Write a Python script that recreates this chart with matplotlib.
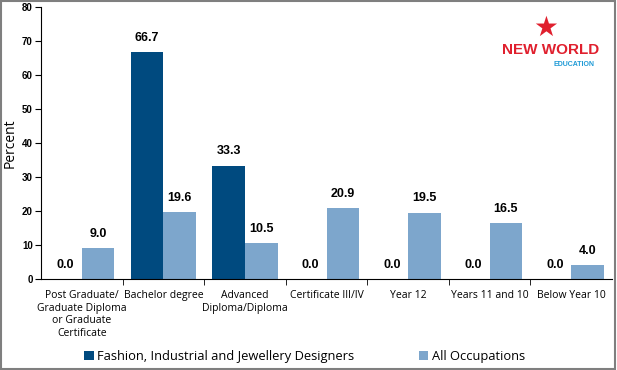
import numpy as np
import matplotlib.pyplot as plt
from matplotlib.patches import Rectangle

# Data
categories = ["Post Graduate/\nGraduate Diploma\nor Graduate\nCertificate", "Bachelor degree",
              "Advanced\nDiploma/Diploma", "Certificate III/IV", "Year 12",
              "Years 11 and 10", "Below Year 10"]
designers = [0.0, 66.7, 33.3, 0.0, 0.0, 0.0, 0.0]
all_occ = [9.0, 19.6, 10.5, 20.9, 19.5, 16.5, 4.0]
series_names = ["Fashion, Industrial and Jewellery Designers", "All Occupations"]

dark = '#004A7F'
light = '#7DA6CC'
narrow = ['Liberation Sans', 'DejaVu Sans']
body = ['Open Sans', 'DejaVu Sans']

fig = plt.figure(figsize=(6.17, 3.70), dpi=100)
ax = fig.add_axes([41 / 617, 91 / 370, 571 / 617, 272 / 370])

x = np.arange(len(categories))
w = 0.4
b1 = ax.bar(x - w / 2, designers, w, color=dark, label=series_names[0])
b2 = ax.bar(x + w / 2, all_occ, w, color=light, label=series_names[1])

for bars, vals in ((b1, designers), (b2, all_occ)):
    for r, v in zip(bars, vals):
        ax.annotate(f"{v:.1f}", (r.get_x() + r.get_width() / 2, v), xytext=(0, 6),
                    textcoords='offset points', ha='center', va='bottom',
                    fontsize=9, fontweight='bold', family=narrow)

ax.set_xlim(-0.5, len(categories) - 0.5)
ax.set_ylim(0, 80)
ax.set_yticks(range(0, 81, 10))
ax.set_yticklabels([str(v) for v in range(0, 81, 10)], fontsize=7,
                   fontweight='bold', family=narrow)
ax.set_xticks(x)
ax.set_xticklabels(categories, fontsize=7.5, family=body, linespacing=1.2)
ax.tick_params(axis='x', length=0, pad=8)
ax.set_xticks(np.arange(0.5, len(categories) - 0.5, 1), minor=True)
ax.tick_params(axis='x', which='minor', length=4, direction='out')
ax.tick_params(axis='y', length=4, direction='out', pad=2)
ax.set_ylabel("Percent", fontsize=10, family=body, labelpad=3)

for s in ('top', 'right'):
    ax.spines[s].set_visible(False)

leg = fig.legend(loc='lower center', bbox_to_anchor=(0.494, -0.012), ncol=2, frameon=False,
                 prop={'family': body, 'size': 9.3}, handlelength=0.7, handleheight=0.7,
                 handletextpad=0.3, columnspacing=5.0)

# Logo in the top right corner
fig.text(0.893, 0.865, "NEW WORLD", color='#E0202E', fontsize=11, fontweight='bold',
         family=narrow, ha='center', va='center')
fig.text(0.93, 0.827, "EDUCATION", color='#1E9AD6', fontsize=5, fontweight='bold',
         family=narrow, ha='center', va='center')
fig.text(0.885, 0.925, "\u2605", color='#E0202E', fontsize=20, ha='center', va='center',
         family='DejaVu Sans')

# Gray border around the whole picture
fig.patches.append(Rectangle((0.002, 0.003), 0.995, 0.994, transform=fig.transFigure,
                             fill=False, edgecolor='#7F7F7F', linewidth=1.5))

fig.savefig("out.png", dpi=100)
